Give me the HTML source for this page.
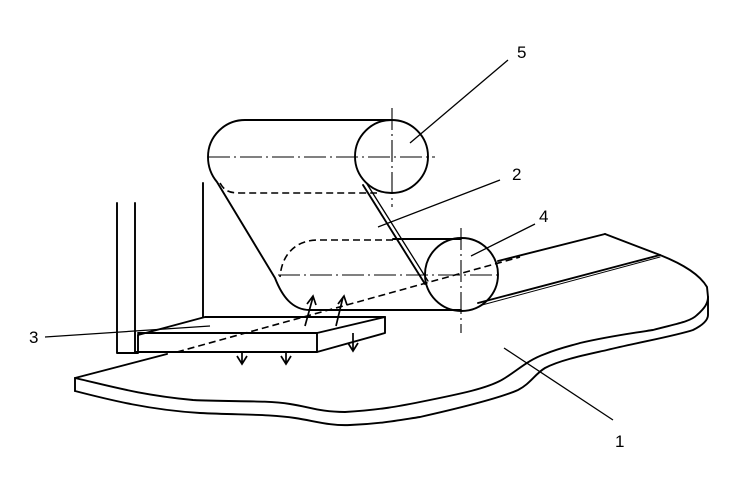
<!DOCTYPE html>
<html><head><meta charset="utf-8"><style>html,body{margin:0;padding:0;background:#fff}svg{display:block}</style></head>
<body>
<svg width="735" height="478" viewBox="0 0 735 478" xmlns="http://www.w3.org/2000/svg">
<g fill="none" stroke="#000" stroke-width="1.9" stroke-linejoin="round" stroke-linecap="round">
<!-- sheet 1 -->
<path d="M75,378 L167,354"/>
<path d="M75,378 L75,391"/>
<path d="M75,378 C110,386 140,395 193,400 C230,402 265,400 290,404 C310,407 320,412 345,412 C380,410 400,406 420,402 C460,394 490,388 505,378 C518,370 528,360 545,354 C560,348 570,346 580,343 C610,336 640,332 653,330 C675,324 690,322 697,315 C705,308 708,303 708,297"/>
<path d="M75,391 C110,400 150,410 200,413 C240,415 270,414 295,418 C315,421 330,426 350,425 C380,424 400,420 420,417 C460,408 500,398 518,390 C530,384 535,374 545,368 C560,360 585,355 607,350 C640,342 675,336 693,330 C703,325 708,320 708,315 L708,297"/>
<path d="M605,234 L660,255 C685,265 700,275 707,287 L708,297"/>
<!-- strip -->
<path d="M498,261 L605,234"/>
<path d="M478,303 L660,255"/>
<path d="M482,305 L660,257" stroke-width="1"/>
<!-- posts -->
<path d="M117,203 L117,353 L138,353"/>
<path d="M135,203 L135,353"/>
<path d="M203,183 L203,317"/>
<!-- box 3 -->
<path d="M138,335 L205,317 L385,317 L385,333 L317,352 L135,352"/>
<path d="M138,333 L317,333 L385,317"/>
<path d="M317,333 L317,352"/>
<path d="M138,335 L138,352"/>
<!-- upper belt -->
<path d="M392,120 L245,120 A37,37 0 0 0 208,157 C208,168 212,176 217,182 L275,278 C282,296 292,310 310,310 L461,310"/>
<circle cx="391.5" cy="156.5" r="36.5"/>
<circle cx="461.5" cy="274.5" r="36.5"/>
<path d="M393,239 L461,239"/>
<path d="M363,185 L425,284"/>
<path d="M367,184 L428,281" stroke-width="1.3"/>
</g>
<g fill="none" stroke="#000" stroke-width="1.6" stroke-dasharray="7,4">
<path d="M220,183 C224,190 228,193 240,193 L377,193"/>
<path d="M393,240 L318,240 C298,240 282,252 280,277"/>
<path d="M177,352 L520,257"/>
</g>
<g fill="none" stroke="#000" stroke-width="1.1" stroke-dasharray="22,4,2,4">
<path d="M208,157 L435,157"/>
<path d="M392,108 L392,207"/>
<path d="M278,275 L500,275"/>
<path d="M461,228 L461,333"/>
</g>
<!-- arrows -->
<g fill="none" stroke="#000" stroke-width="1.7">
<path d="M242,352 L242,363 M237,356 L242,364 L247,356"/>
<path d="M286,352 L286,363 M281,356 L286,364 L291,356"/>
<path d="M353,333 L353,350 M348,343 L353,351 L358,343"/>
<path d="M305,326 L313,297 M307,304 L313,296 L316,305"/>
<path d="M336,326 L343,297 M338,304 L344,296 L347,305"/>
</g>
<!-- leaders -->
<g stroke="#000" stroke-width="1.3">
<line x1="45" y1="337" x2="210" y2="326"/>
<line x1="410" y1="143" x2="508" y2="60"/>
<line x1="378" y1="227" x2="500" y2="180"/>
<line x1="471" y1="256" x2="535" y2="224"/>
<line x1="504" y1="348" x2="613" y2="420"/>
</g>
<g font-family="Liberation Sans, sans-serif" font-size="17" fill="#000">
<text x="29" y="343">3</text>
<text x="517" y="58">5</text>
<text x="512" y="180">2</text>
<text x="539" y="222">4</text>
<text x="615" y="447">1</text>
</g>
</svg>
</body></html>
